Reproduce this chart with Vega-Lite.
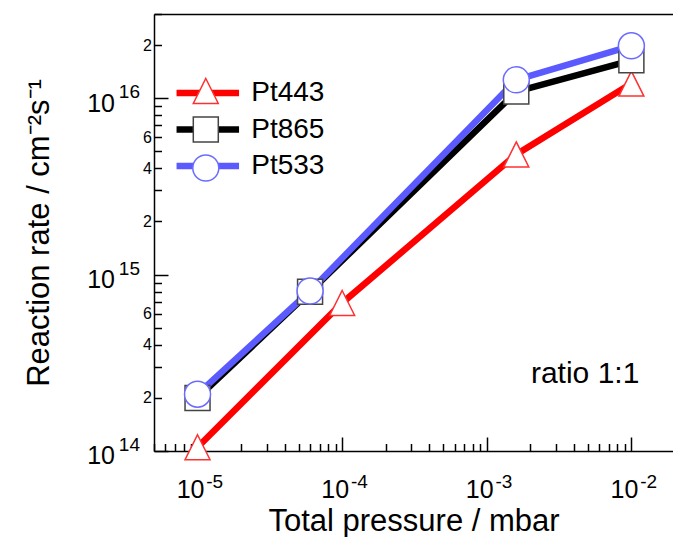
{
  "$schema": "https://vega.github.io/schema/vega-lite/v6.json",
  "width": 519,
  "height": 437,
  "autosize": {"type": "none"},
  "padding": {"left": 154, "top": 14, "right": 0, "bottom": 86},
  "background": "white",
  "config": {
    "view": {"stroke": null},
    "font": "Liberation Sans",
    "axis": {"grid": false, "labelFont": "Liberation Sans", "titleFont": "Liberation Sans", "labelColor": "black", "titleColor": "black", "tickColor": "black", "domainColor": "black", "domainWidth": 1.5, "tickWidth": 1.5, "titleFontWeight": "normal", "labelOverlap": false, "labelFlush": false, "labelBound": false},
    "legend": {"labelFont": "Liberation Sans", "labelColor": "black"}
  },
  "data": {"values": [
    {"series": "Pt443", "p": 0.00001, "rate": 1.05e14},
    {"series": "Pt443", "p": 0.0001, "rate": 6.9e14},
    {"series": "Pt443", "p": 0.0016, "rate": 4.8e15},
    {"series": "Pt443", "p": 0.01, "rate": 1.21e16},
    {"series": "Pt865", "p": 0.00001, "rate": 2.0e14},
    {"series": "Pt865", "p": 0.00006, "rate": 8.0e14},
    {"series": "Pt865", "p": 0.0016, "rate": 1.09e16},
    {"series": "Pt865", "p": 0.01, "rate": 1.64e16},
    {"series": "Pt533", "p": 0.00001, "rate": 2.1e14},
    {"series": "Pt533", "p": 0.00006, "rate": 8.07e14},
    {"series": "Pt533", "p": 0.0016, "rate": 1.27e16},
    {"series": "Pt533", "p": 0.01, "rate": 1.98e16}
  ]},
  "resolve": {"axis": {"x": "independent", "y": "independent"}},
  "layer": [
    {
      "mark": {"type": "line", "strokeWidth": 6.5},
      "encoding": {
        "x": {"field": "p", "type": "quantitative",
          "scale": {"type": "log", "domain": [0.000005, 0.0194], "nice": false},
          "axis": {"orient": "bottom",
            "values": [0.000005, 0.000006, 0.000007, 0.000008, 0.000009, 0.00001, 0.00002, 0.00003, 0.00004, 0.00005, 0.00006, 0.00007, 0.00008, 0.00009, 0.0001, 0.0002, 0.0003, 0.0004, 0.0005, 0.0006, 0.0007, 0.0008, 0.0009, 0.001, 0.002, 0.003, 0.004, 0.005, 0.006, 0.007, 0.008, 0.009, 0.01],
            "labelExpr": "abs(log(datum.value)/LN10 - round(log(datum.value)/LN10)) < 0.001 ? '10' : ''",
            "labelFontSize": 25, "labelOffset": -7.5, "labelPadding": 40.5, "labelAlign": "center", "labelBaseline": "top",
            "tickSize": {"condition": {"test": "abs(log(datum.value)/LN10 - round(log(datum.value)/LN10)) < 0.001", "value": -14}, "value": -7.5},
            "domain": true,
            "title": "Total pressure / mbar", "titleFontSize": 31, "titlePadding": -3}},
        "y": {"field": "rate", "type": "quantitative",
          "scale": {"type": "log", "domain": [1e14, 3e16], "nice": false},
          "axis": {"orient": "left",
            "values": [1e14, 2e14, 3e14, 4e14, 5e14, 6e14, 7e14, 8e14, 9e14, 1e15, 2e15, 3e15, 4e15, 5e15, 6e15, 7e15, 8e15, 9e15, 1e16, 2e16, 3e16],
            "labelExpr": "abs(log(datum.value)/LN10 - round(log(datum.value)/LN10)) < 0.001 ? '10' : (indexof([2, 4, 6], round(datum.value / pow(10, floor(log(datum.value)/LN10 + 0.001)))) >= 0 ? '' + round(datum.value / pow(10, floor(log(datum.value)/LN10 + 0.001))) : '')",
            "labelFontSize": {"condition": {"test": "abs(log(datum.value)/LN10 - round(log(datum.value)/LN10)) < 0.001", "value": 25}, "value": 16},
            "labelPadding": {"condition": {"test": "abs(log(datum.value)/LN10 - round(log(datum.value)/LN10)) < 0.001", "value": 53.5}, "value": 10},
            "labelOffset": {"condition": {"test": "abs(log(datum.value)/LN10 - round(log(datum.value)/LN10)) < 0.001", "value": 4.9}, "value": 0},
            "labelAlign": "right", "labelBaseline": "middle",
            "tickSize": {"condition": {"test": "abs(log(datum.value)/LN10 - round(log(datum.value)/LN10)) < 0.001", "value": -14}, "value": -7.5},
            "domain": true,
            "title": "Reaction rate / cm⁻²s⁻¹", "titleFontSize": 31, "titlePadding": 31}},
        "color": {"field": "series", "type": "nominal", "sort": ["Pt443", "Pt865", "Pt533"],
          "scale": {"range": ["#ff0000", "#000000", "#5a5aff"]},
          "legend": {"orient": "none", "legendX": 37.8, "legendY": 63, "title": null, "direction": "vertical",
            "symbolType": "M-2.5,0H2.5", "symbolSize": 625, "symbolStrokeWidth": 6.5,
            "labelFontSize": 28, "labelOffset": 27.4, "rowPadding": 6.5}}
      }
    },
    {
      "mark": {"type": "point", "filled": true, "fill": "white", "size": 625, "strokeWidth": 1.5, "opacity": 1},
      "encoding": {
        "x": {"field": "p", "type": "quantitative",
          "scale": {"type": "log", "domain": [0.000005, 0.0194], "nice": false},
          "axis": {"orient": "bottom", "values": [0.00001, 0.0001, 0.001, 0.01],
            "labelExpr": "'' + round(log(datum.value)/LN10)",
            "labelFontSize": 19, "labelOffset": 16.7, "labelPadding": 21, "labelAlign": "center", "labelBaseline": "top",
            "ticks": false, "domain": false, "title": null}},
        "y": {"field": "rate", "type": "quantitative",
          "scale": {"type": "log", "domain": [1e14, 3e16], "nice": false},
          "axis": {"orient": "left", "values": [1e14, 1e15, 1e16],
            "labelExpr": "'' + round(log(datum.value)/LN10)",
            "labelFontSize": 19, "labelOffset": -6.2, "labelPadding": 14.5, "labelAlign": "right", "labelBaseline": "middle",
            "ticks": false, "domain": false, "title": null}},
        "shape": {"field": "series", "type": "nominal",
          "scale": {"domain": ["Pt443", "Pt865", "Pt533"], "range": ["M0,-1L1,1L-1,1Z", "square", "M-1.04,0A1.04,1.04 0 1,1 1.04,0A1.04,1.04 0 1,1 -1.04,0Z"]},
          "legend": {"orient": "none", "legendX": 37.8, "legendY": 63, "title": null, "direction": "vertical",
            "symbolSize": 625, "symbolStrokeWidth": 1.5, "symbolFillColor": "white",
            "labelFontSize": 28, "labelOffset": 27.4, "rowPadding": 6.5, "labelExpr": "''"}},
        "stroke": {"field": "series", "type": "nominal",
          "scale": {"domain": ["Pt443", "Pt865", "Pt533"], "range": ["#ff3030", "#444444", "#6b6bff"]},
          "legend": {"orient": "none", "legendX": 37.8, "legendY": 63, "title": null, "direction": "vertical",
            "symbolSize": 625, "symbolStrokeWidth": 1.5, "symbolFillColor": "white",
            "labelFontSize": 28, "labelOffset": 27.4, "rowPadding": 6.5, "labelExpr": "''"}}
      }
    },
    {
      "data": {"values": [{"note": "ratio 1:1", "p": 0.00479, "rate": 2.42e14}]},
      "mark": {"type": "text", "fontSize": 30, "align": "center", "baseline": "alphabetic", "font": "Liberation Sans", "color": "black"},
      "encoding": {
        "x": {"field": "p", "type": "quantitative",
          "scale": {"type": "log", "domain": [0.000005, 0.0194], "nice": false},
          "axis": {"orient": "top", "domain": true, "labels": false, "ticks": false, "title": null}},
        "y": {"field": "rate", "type": "quantitative",
          "scale": {"type": "log", "domain": [1e14, 3e16], "nice": false},
          "axis": null},
        "text": {"field": "note"}
      }
    }
  ]
}
